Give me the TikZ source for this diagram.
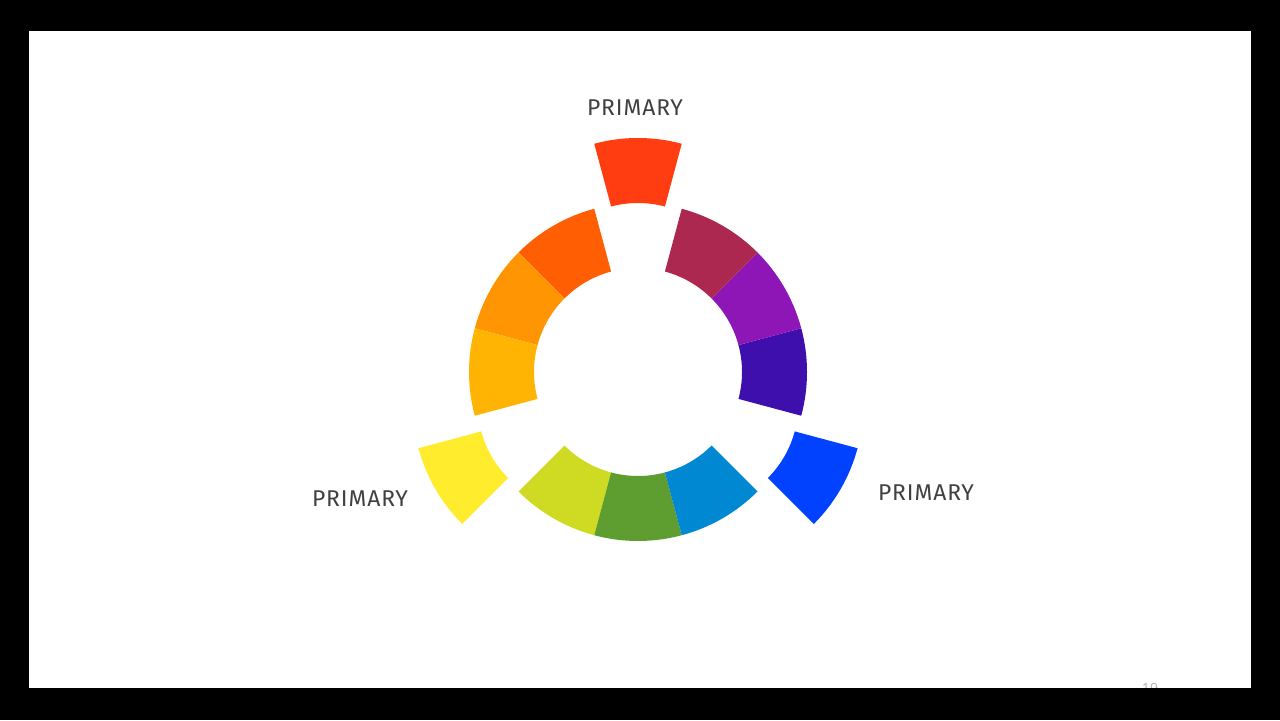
\documentclass[tikz,border=0pt]{standalone}
\usepackage{fontspec}
\setmainfont{Open Sans}
\newfontfamily\labelfont[LetterSpace=4]{Fira Sans}
\usepackage{tikz}

\definecolor{labelgray}{HTML}{404040}
\definecolor{pagegray}{HTML}{B0B0B0}
\definecolor{cwred}{HTML}{FF3D10}
\definecolor{cwredorange}{HTML}{FF5E03}
\definecolor{cworange}{HTML}{FF9503}
\definecolor{cwamber}{HTML}{FFB403}
\definecolor{cwyellow}{HTML}{FFEC2C}
\definecolor{cwyellowgreen}{HTML}{CFDA22}
\definecolor{cwgreen}{HTML}{5E9E30}
\definecolor{cwbluegreen}{HTML}{0088D2}
\definecolor{cwblue}{HTML}{0042FF}
\definecolor{cwviolet}{HTML}{3F0FAE}
\definecolor{cwpurple}{HTML}{8E16B6}
\definecolor{cwmagenta}{HTML}{AD2850}

\tikzstyle{primarylabel} = [text=labelgray, font=\labelfont\fontsize{13}{15}\selectfont]
\tikzstyle{pagelabel} = [text=pagegray, font=\fontsize{8}{10}\selectfont]

\begin{document}
\begin{tikzpicture}[x=0.02cm, y=0.02cm]
    % Frame
    \fill[black] (0,0) rectangle (1280,720);
    \fill[white] (29,32) rectangle (1251,689);

    % Wheel
    \begin{scope}[shift={(638,348)}]
    \foreach \sa/\col [evaluate=\sa as \se using \sa+30] in
            {105/cwredorange, 135/cworange, 165/cwamber,
             225/cwyellowgreen, 255/cwgreen, 285/cwbluegreen,
             345/cwviolet, 15/cwpurple, 45/cwmagenta}
        \fill[\col] (\sa:104) arc[start angle=\sa, end angle=\se, radius=104]
            -- (\se:169) arc[start angle=\se, end angle=\sa, radius=169] -- cycle;

    % Primaries
    \foreach \sa/\col [evaluate=\sa as \se using \sa+30, evaluate=\sa as \sm using \sa+15] in
            {75/cwred, 195/cwyellow, 315/cwblue}
        \fill[\col, shift={(\sm:65)}] (\sa:104) arc[start angle=\sa, end angle=\se, radius=104]
            -- (\se:169) arc[start angle=\se, end angle=\sa, radius=169] -- cycle;
    \end{scope}

    % Labels
    \node (primtop) [primarylabel] at (635,612) {PRIMARY};
    \node (primleft) [primarylabel] at (360,221) {PRIMARY};
    \node (primright) [primarylabel] at (926,227) {PRIMARY};
    \node (pagenum) [pagelabel] at (1150,32) {19};

    \fill[black] (0,0) rectangle (1280,32);
\end{tikzpicture}
\end{document}
